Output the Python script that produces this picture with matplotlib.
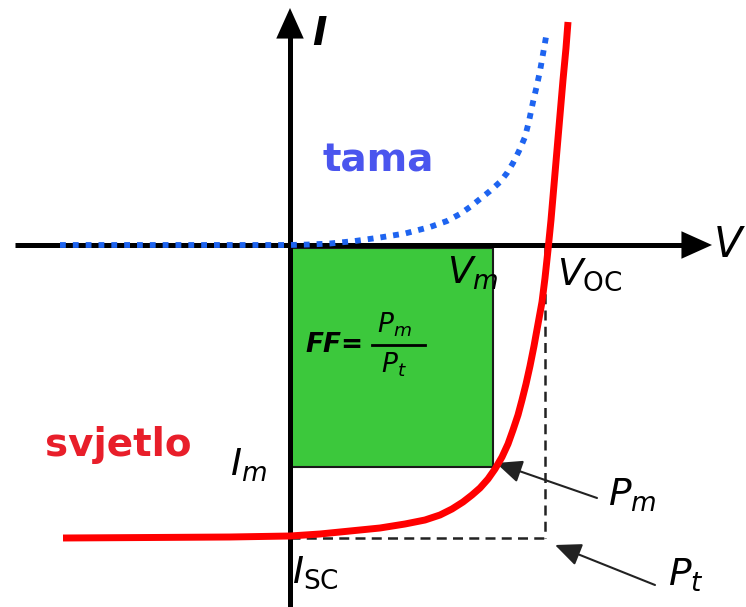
import numpy as np
import matplotlib
matplotlib.use("Agg")
import matplotlib.pyplot as plt
from matplotlib.patches import Rectangle

# I-V curves of a solar cell (V to the right, I upward, arbitrary units)
light_v = np.array([63, 150, 230, 290, 320, 350, 380, 405, 425, 440, 452, 463, 472,
                    480, 488, 495, 502, 508, 513, 518, 522, 526, 530, 534, 538, 542,
                    545, 548, 551, 554, 557, 560, 563, 566, 568]) - 290
light_i = 245 - np.array([538, 537.5, 537, 536, 534, 531, 528, 524, 520, 515, 509, 502, 495,
                          488, 479, 469, 457, 444, 430, 415, 400, 384, 366, 346, 324, 302,
                          278, 250, 220, 185, 150, 115, 80, 48, 22])

dark_v = np.array([60, 200, 290, 310, 330, 355, 380, 405, 430, 447, 460, 470, 480,
                   490, 500, 507, 513, 519, 525, 529, 533, 537, 540, 543, 546]) - 290
dark_i = 245 - np.array([245, 245, 245, 244.5, 243.5, 241, 237.5, 233.5, 227, 221, 214, 207, 199,
                         191, 182, 173, 163, 151, 137, 121, 102, 85, 71, 54, 37])

v_m, i_m = 203, -222      # maximum power point
v_oc, i_sc = 255, -293    # open circuit voltage / short circuit current

plt.rcParams['mathtext.fontset'] = 'dejavusans'
fig = plt.figure(figsize=(7.46, 6.07), dpi=100)
ax = fig.add_axes([0, 0, 1, 1])
ax.set_xlim(-290, 456)
ax.set_ylim(-362, 245)
ax.axis('off')

# fill factor rectangle
ax.add_patch(Rectangle((0, i_m), v_m, -i_m - 3, facecolor='#3cc83c',
                       edgecolor='#1a1a1a', lw=1.5, zorder=1))

# Pt dashed box
ax.plot([v_oc, v_oc], [0, i_sc], ls=(0, (4, 2.5)), color='#222222', lw=1.8, zorder=2)
ax.plot([0, v_oc], [i_sc, i_sc], ls=(0, (4, 2.5)), color='#222222', lw=1.8, zorder=2)

# axes with arrows
ax.plot([-275, 405], [0, 0], color='k', lw=3.6, zorder=3, solid_capstyle='butt')
ax.plot([0, 0], [-362, 220], color='k', lw=3.6, zorder=3, solid_capstyle='butt')
head = dict(arrowstyle='-|>,head_length=1.0,head_width=0.45',
            color='k', lw=0, mutation_scale=22, shrinkA=0, shrinkB=0)
ax.annotate('', xy=(422, 0), xytext=(395, 0), arrowprops=head, zorder=3)
ax.annotate('', xy=(0, 237), xytext=(0, 210), arrowprops=head, zorder=3)

# curves
ax.plot(dark_v, dark_i, color='#1e64f0', lw=4.2, ls=(0, (1, 1.2)),
        dash_capstyle='butt', zorder=4)
ax.plot(light_v, light_i, color='#ff0000', lw=5, zorder=5,
        solid_capstyle='butt', solid_joinstyle='round')

# labels
ax.text(22, 211, 'I', fontsize=28, fontweight='bold', fontstyle='italic', ha='left', va='center')
ax.text(424, 0, 'V', fontsize=30, fontstyle='italic', ha='left', va='center')
ax.text(88, 84, 'tama', fontsize=28, fontweight='bold', color='#4a55ee', ha='center', va='center')
ax.text(-172, -200, 'svjetlo', fontsize=28, fontweight='bold', color='#e81e2a', ha='center', va='center')
ax.text(183, -28, r'$V_m$', fontsize=27, ha='center', va='center')
ax.text(300, -30, r'$V_{\mathrm{OC}}$', fontsize=27, ha='center', va='center')
ax.text(-42, -220, r'$I_m$', fontsize=27, ha='center', va='center')
ax.text(25, -328, r'$I_{\mathrm{SC}}$', fontsize=27, ha='center', va='center')
ax.text(318, -250, r'$P_m$', fontsize=27, ha='left', va='center')
ax.text(378, -330, r'$P_t$', fontsize=27, ha='left', va='center')

# FF = Pm / Pt
ax.text(45, -100, 'FF=', fontsize=19, fontweight='bold', fontstyle='italic', ha='center', va='center')
ax.text(104, -80, r'$\mathbf{\mathit{P}}_{\mathbf{\mathit{m}}}$', fontsize=19, ha='center', va='center')
ax.plot([82, 135], [-100, -100], color='k', lw=2)
ax.text(104, -120, r'$\mathbf{\mathit{P}}_{\mathbf{\mathit{t}}}$', fontsize=19, ha='center', va='center')

# pointer arrows
ax.annotate('', xy=(v_m + 3, i_m + 4), xytext=(307, -253),
            arrowprops=dict(arrowstyle='-|>,head_length=0.8,head_width=0.35',
                            color='#222222', lw=1.5, mutation_scale=20, shrinkA=0, shrinkB=0))
ax.annotate('', xy=(v_oc + 10, i_sc - 7), xytext=(365, -340),
            arrowprops=dict(arrowstyle='-|>,head_length=0.8,head_width=0.35',
                            color='#222222', lw=1.5, mutation_scale=20, shrinkA=0, shrinkB=0))

fig.savefig('out.png', dpi=100)
